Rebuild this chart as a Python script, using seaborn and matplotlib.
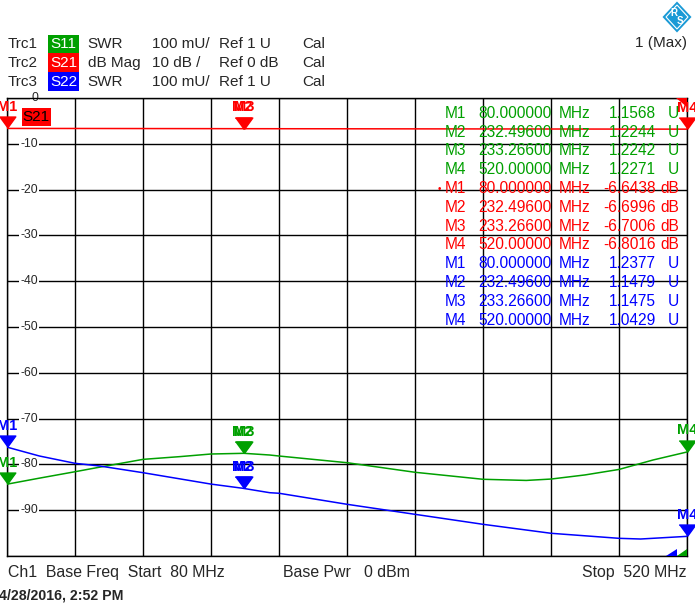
import numpy as np
import pandas as pd
import matplotlib
matplotlib.use("Agg")
import matplotlib.pyplot as plt
import matplotlib.transforms as mtransforms
from matplotlib.patches import Polygon, Rectangle
import seaborn as sns

# ---- data ----
start_mhz, stop_mhz = 80, 520

s11_freq = [80, 101, 124, 140, 168, 192, 212, 233.27, 250, 256, 300, 344, 388, 416, 432, 454, 476, 498, 520]
s11_swr = [1.1568, 1.170, 1.184, 1.194, 1.211, 1.217, 1.2227, 1.2242, 1.2205, 1.2183, 1.2037,
           1.1828, 1.1675, 1.165, 1.168, 1.177, 1.189, 1.2096, 1.2271]

s21_freq = [80, 128, 232.496, 233.266, 380, 520]
s21_db = [-6.6438, -6.655, -6.6996, -6.7006, -6.75, -6.8016]

s22_freq = [80, 101, 124, 140, 168, 212, 232.496, 250, 256, 300, 344, 388, 432, 476, 490, 520]
s22_swr = [1.2377, 1.2183, 1.2024, 1.1965, 1.1819, 1.157, 1.1479, 1.1382, 1.137, 1.1129,
           1.091, 1.0692, 1.0496, 1.0386, 1.0371, 1.0429]

marker_names = ["M1", "M2", "M3", "M4"]
marker_freq = [80.0, 232.496, 233.266, 520.0]
marker_freq_txt = ["80.000000", "232.49600", "233.26600", "520.00000"]
s11_marker = [1.1568, 1.2244, 1.2242, 1.2271]
s21_marker = [-6.6438, -6.6996, -6.7006, -6.8016]
s22_marker = [1.2377, 1.1479, 1.1475, 1.0429]

y_labels = [0, -10, -20, -30, -40, -50, -60, -70, -80, -90]

GREEN = "#00a000"
RED = "#ff0000"
BLUE = "#0000ff"

W, H = 695, 613


def swr_to_grid(v):
    # 100 mU/div, Ref 1 U at the bottom line (-100 on the dB grid)
    return -100 + (np.asarray(v) - 1.0) * 100


df = pd.concat([
    pd.DataFrame({"freq": s11_freq, "y": swr_to_grid(s11_swr), "trc": "S11"}),
    pd.DataFrame({"freq": s21_freq, "y": s21_db, "trc": "S21"}),
    pd.DataFrame({"freq": s22_freq, "y": swr_to_grid(s22_swr), "trc": "S22"}),
])

sns.set_style("white")
plt.rcParams["font.family"] = ["Liberation Sans", "DejaVu Sans"]

fig = plt.figure(figsize=(W / 100, H / 100), dpi=100)
pix = mtransforms.Affine2D().scale(1 / 100, -1 / 100).translate(0, H / 100) + fig.dpi_scale_trans

ax = fig.add_axes([7 / W, 1 - 556 / H, 680 / W, 458 / H])
ax.set_xlim(start_mhz, stop_mhz)
ax.set_ylim(-100, 0)
ax.set_xticks(np.linspace(start_mhz, stop_mhz, 11))
ax.set_yticks(np.arange(-100, 1, 10))
ax.tick_params(length=0, labelbottom=False, labelleft=False)
ax.grid(True, color="black", lw=1.0)
for s in ax.spines.values():
    s.set_color("black")
    s.set_linewidth(1.0)
ax.set_xlabel("")
ax.set_ylabel("")

sns.lineplot(data=df, x="freq", y="y", hue="trc", palette={"S11": GREEN, "S21": RED, "S22": BLUE},
             estimator=None, sort=False, legend=False, lw=1.1, ax=ax, zorder=3)

# grid value labels sit inside the plot on a white patch
ylab_tr = mtransforms.blended_transform_factory(ax.transAxes, ax.transData)
for v in y_labels:
    ax.text(31 / 680, v, str(v), transform=ylab_tr, ha="right", va="center", fontsize=8.8,
            bbox=dict(fc="white", ec="none", pad=0.8), zorder=2.5)

# markers: triangle with its tip on the trace, label above
tri = [(-8, 11), (8, 11), (0, 0)]
for vals, color in [(s21_marker, RED), (swr_to_grid(s11_marker), GREEN), (swr_to_grid(s22_marker), BLUE)]:
    ax.plot(marker_freq, vals, ls="none", marker=tri, ms=16.5, color=color, mec=color, clip_on=False, zorder=4)
    for name, f, v in zip(marker_names, marker_freq, vals):
        ax.annotate(name, (f, v), xytext=(0, 15.5), textcoords="offset points", ha="center", va="center",
                    fontsize=10.5, fontweight="bold", color=color, annotation_clip=False, zorder=4)

# S21 trace tag
ax.add_patch(Rectangle((22, 108.3), 28.7, 17.4, transform=pix, fc=RED, ec="none", zorder=5, clip_on=False))
ax.text(36.3, 117, "S21", transform=pix, ha="center", va="center", fontsize=11, color="black", zorder=6)

# limit indicators at the corners
fig.patches.append(Polygon([(676, 97.5), (687, 97.5), (687, 107)], closed=True, transform=pix, fc=RED, ec="none"))
fig.patches.append(Polygon([(666, 556), (677, 556), (677, 549)], closed=True, transform=pix, fc=BLUE, ec="none"))
fig.patches.append(Polygon([(677, 556), (687, 556), (687, 549)], closed=True, transform=pix, fc=GREEN, ec="none"))

# marker readout table
rows = []
for trc, vals, unit, color in [("S11", s11_marker, "U", GREEN), ("S21", s21_marker, "dB", RED),
                               ("S22", s22_marker, "U", BLUE)]:
    for name, ftxt, v in zip(marker_names, marker_freq_txt, vals):
        rows.append((name, ftxt, f"{v:.4f}", unit, color))
for i, (name, ftxt, vtxt, unit, color) in enumerate(rows):
    y = 113.3 + 18.8 * i
    kw = dict(transform=pix, va="center", fontsize=11.2, color=color, zorder=7)
    fig.text(445, y, name, ha="left", **kw)
    fig.text(478, y, ftxt, ha="left", **kw)
    fig.text(559, y, "MHz", ha="left", **kw)
    fig.text(656, y, vtxt, ha="right", **kw)
    fig.text(679, y, unit, ha="right", **kw)
fig.text(439, 189.3, "\u2022", transform=pix, ha="center", va="center", fontsize=7, color=RED)

# header
header = [("Trc1", "S11", GREEN, "SWR", "100 mU/", "Ref 1 U"),
          ("Trc2", "S21", RED, "dB Mag", "10 dB /", "Ref 0 dB"),
          ("Trc3", "S22", BLUE, "SWR", "100 mU/", "Ref 1 U")]
for i, (trc, sp, color, fmt, scale, ref) in enumerate(header):
    y = 44.3 + 18.7 * i
    fig.patches.append(Rectangle((48.3, y - 9.7), 30.7, 19.4, transform=pix, fc=color, ec="none"))
    kw = dict(transform=pix, va="center", fontsize=11)
    fig.text(8, y, trc, ha="left", **kw)
    fig.text(63.6, y, sp, ha="center", color="white", **kw)
    fig.text(87.5, y, fmt, ha="left", **kw)
    fig.text(152.3, y, scale, ha="left", **kw)
    fig.text(219, y, ref, ha="left", **kw)
    fig.text(302.3, y, "Cal", ha="left", **kw)
fig.text(686.7, 43.5, "1 (Max)", transform=pix, ha="right", va="center", fontsize=11)

# logo
cx, cy = 677, 17
fig.patches.append(Polygon([(cx, cy - 15.5), (cx + 14.5, cy), (cx, cy + 15.5), (cx - 14.5, cy)],
                           closed=True, transform=pix, fc="#1a9ad6", ec="none"))
fig.patches.append(Polygon([(cx, cy - 12), (cx + 11, cy), (cx, cy + 12), (cx - 11, cy)],
                           closed=True, transform=pix, fc="none", ec="white", lw=0.8))
fig.text(cx - 3, cy - 4, "R", transform=pix, ha="center", va="center", fontsize=7, color="white", fontweight="bold")
fig.text(cx + 3, cy + 4, "S", transform=pix, ha="center", va="center", fontsize=7, color="white", fontweight="bold")

# footer
fkw = dict(transform=pix, va="center", fontsize=11.4)
fig.text(8, 572.7, "Ch1  Base Freq  Start  80 MHz", ha="left", **fkw)
fig.text(283.3, 572.7, "Base Pwr   0 dBm", ha="left", **fkw)
fig.text(687, 572.7, "Stop  520 MHz", ha="right", **fkw)
fig.text(-1, 595.7, "4/28/2016, 2:52 PM", transform=pix, ha="left", va="center",
         fontsize=10.2, fontweight="bold")

fig.savefig("out.png", dpi=100)
